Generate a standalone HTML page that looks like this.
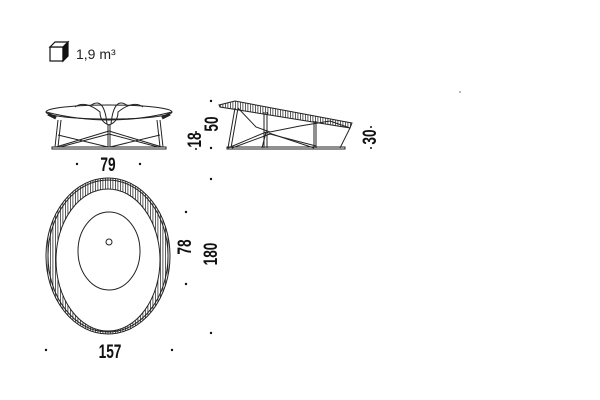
<!DOCTYPE html>
<html><head><style>
html,body{margin:0;padding:0;background:#fff;}
svg{display:block;}
.d{font-family:"Liberation Sans",sans-serif;font-weight:bold;font-size:19px;fill:#111;}
</style></head><body>
<svg width="600" height="400" viewBox="0 0 600 400" xmlns="http://www.w3.org/2000/svg">
<defs>
<pattern id="hatch" width="2.5" height="2" patternUnits="userSpaceOnUse"><rect width="0.8" height="2" fill="#333"/></pattern>
</defs>
<!-- cube icon -->
<g stroke="#111" stroke-width="1.2" fill="#fff">
<rect x="50" y="47" width="13" height="14"/>
<polygon points="50,47 55,42 68,42 63,47"/>
<polygon points="63,47 68,42 68,56 63,61" fill="#111"/>
</g>
<text x="76" y="59" font-family="Liberation Sans,sans-serif" font-size="14" fill="#222">1,9  m³</text>

<!-- front view -->
<g stroke="#222" stroke-width="1" fill="none">
<ellipse cx="109" cy="112" rx="63" ry="7"/>
<path d="M46,112 Q109,128 172,112"/>
<path d="M48,114 L56,118" stroke-width="3"/>
<path d="M170,114 L162,118" stroke-width="3"/>
<path d="M75,107 Q85,100 100,112 Q100,122 109,125"/>
<path d="M143,107 Q133,100 118,112 Q118,122 109,125"/>
<path d="M90,106 Q104,95 107,124"/>
<path d="M128,106 Q114,95 111,124"/>
<line x1="58" y1="120" x2="55" y2="147"/><line x1="61" y1="120" x2="58" y2="147"/>
<line x1="160" y1="120" x2="163" y2="147"/><line x1="157" y1="120" x2="160" y2="147"/>
<line x1="108" y1="124" x2="108" y2="147"/><line x1="110" y1="124" x2="110" y2="147"/>
<line x1="56" y1="147" x2="109" y2="131"/><line x1="162" y1="147" x2="109" y2="131"/>
<line x1="60" y1="147" x2="109" y2="134"/><line x1="158" y1="147" x2="109" y2="134"/>
<line x1="58" y1="135" x2="108" y2="147"/><line x1="160" y1="135" x2="110" y2="147"/>
<rect x="52" y="147" width="114" height="2"/>
</g>
<!-- side view -->
<g stroke="#222" stroke-width="1" fill="none">
<polygon points="219,105 235,101 352,123 350,128 220,107" fill="url(#hatch)"/>
<line x1="235" y1="108" x2="228" y2="148"/>
<line x1="238" y1="108" x2="231" y2="148"/>
<line x1="264" y1="112" x2="264" y2="148"/><line x1="267" y1="112" x2="267" y2="148"/>
<line x1="314" y1="121" x2="314" y2="148"/><line x1="316" y1="121" x2="316" y2="148"/>
<line x1="350" y1="128" x2="340" y2="148"/>
<path d="M238,108 L256,127 L270,132 L300,126 L330,121 L350,128"/>
<path d="M228,148 L266,132 L314,148"/>
<path d="M232,148 L270,134 L316,146"/>
<path d="M266,132 L262,148"/>
<rect x="227" y="147" width="118" height="2"/>
</g>

<!-- top view -->
<g stroke="#222" fill="none" stroke-width="1">
<path d="M46,256 A62,78 0 0 1 170,256 A62,78 0 0 1 46,256 Z M56,260 A52,71 0 0 0 160,260 A52,71 0 0 0 56,260 Z" fill="url(#hatch)" fill-rule="evenodd"/>
<ellipse cx="108" cy="256" rx="60" ry="76"/>
<ellipse cx="109" cy="251" rx="31" ry="39"/>
<circle cx="109" cy="242" r="3"/>
</g>

<!-- dims -->
<g fill="#111">
<circle cx="77" cy="164" r="1.2"/><circle cx="140" cy="164" r="1.2"/>
<circle cx="211" cy="101" r="1.2"/><circle cx="211" cy="148" r="1.2"/><circle cx="211" cy="179" r="1.2"/>
<circle cx="186" cy="212" r="1.2"/><circle cx="186" cy="284" r="1.2"/><circle cx="211" cy="333" r="1.2"/>
<circle cx="46" cy="350" r="1.2"/><circle cx="172" cy="350" r="1.2"/>
<circle cx="196" cy="132" r="1"/><circle cx="196" cy="149" r="1"/>
<circle cx="371" cy="127" r="1"/><circle cx="371" cy="148" r="1"/>
<circle cx="460" cy="92" r="0.6"/>
</g>
<text class="d" text-anchor="middle" transform="translate(108,171) scale(0.72,1)">79</text>
<text class="d" text-anchor="middle" transform="translate(201,140) rotate(-90) scale(0.72,1)">18</text>
<text class="d" text-anchor="middle" transform="translate(218,124) rotate(-90) scale(0.72,1)">50</text>
<text class="d" text-anchor="middle" transform="translate(376,137) rotate(-90) scale(0.72,1)">30</text>
<text class="d" text-anchor="middle" transform="translate(191,247) rotate(-90) scale(0.72,1)">78</text>
<text class="d" text-anchor="middle" transform="translate(217,254) rotate(-90) scale(0.72,1)">180</text>
<text class="d" text-anchor="middle" transform="translate(110,358) scale(0.72,1)">157</text>
</svg>
</body></html>
